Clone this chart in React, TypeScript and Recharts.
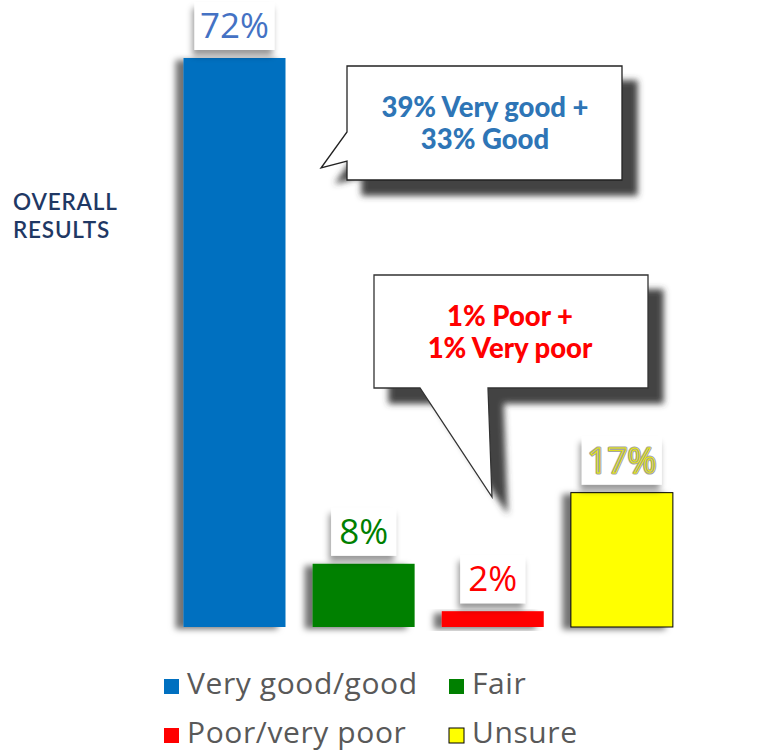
import React from 'react';
import { BarChart, Bar, XAxis, YAxis, Cell, LabelList } from 'recharts';

const categories = ['Very good/good', 'Fair', 'Poor/very poor', 'Unsure'];
const values = [72, 8, 2, 17];
const barColors = ['#0070c0', '#008000', '#ff0000', '#ffff00'];
const labelColors = ['#4472c4', '#008000', '#ff0000', '#ffff00'];
const legendRows = [[0, 1], [2, 3]];
const titleLines = ['OVERALL', 'RESULTS'];
const callout1Lines = ['39% Very good +', '33% Good'];
const callout2Lines = ['1% Poor +', '1% Very poor'];

const data = categories.map((c, i) => ({ name: c, value: values[i] }));

const W = 777;
const H = 752;

const ValueLabel = (props: any) => {
  const { x, y, width, value, index } = props;
  const cx = x + width / 2;
  const digits = String(value).length;
  const bw = 50 + 15 * digits;
  const bh = 48;
  const bottom = y - 8;
  const isUnsure = index === 3;
  const common = {
    x: cx,
    y: bottom - 12,
    textAnchor: 'middle' as const,
    fontFamily: "'Open Sans', sans-serif",
    fontSize: 35,
  };
  return (
    <g>
      <rect x={cx - bw / 2} y={bottom - bh} width={bw} height={bh} fill="#ffffff" filter="url(#labelShadow)" />
      {isUnsure ? (
        <g>
          <text {...common} fill="#a3a3a3" stroke="#a3a3a3" strokeWidth={3} strokeLinejoin="round">
            {`${value}%`}
          </text>
          <text {...common} fill="none" stroke="#e8e800" strokeWidth={0.9}>
            {`${value}%`}
          </text>
        </g>
      ) : (
        <text {...common} fill={labelColors[index]}>
          {`${value}%`}
        </text>
      )}
    </g>
  );
};

const BarShape = (props: any) => {
  const { x, y, width, height, index } = props;
  return (
    <rect
      x={x}
      y={y}
      width={width}
      height={height}
      fill={barColors[index]}
      stroke={index === 3 ? '#000000' : 'none'}
      strokeWidth={index === 3 ? 1 : 0}
      filter="url(#barShadow)"
    />
  );
};

export default function App() {
  return (
    <div style={{ position: 'absolute', left: 0, top: 0, width: W, height: H, background: '#fff' }}>
      <svg width={0} height={0} style={{ position: 'absolute' }}>
        <defs>
          <filter id="barShadow" x="-30%" y="-10%" width="160%" height="130%">
            <feDropShadow dx={-8} dy={2} stdDeviation={3} floodColor="#000" floodOpacity={0.55} />
          </filter>
          <filter id="labelShadow" x="-30%" y="-30%" width="160%" height="170%">
            <feDropShadow dx={-2} dy={6} stdDeviation={3} floodColor="#000" floodOpacity={0.4} />
          </filter>
          <filter id="calloutShadow" x="-20%" y="-20%" width="150%" height="160%">
            <feDropShadow dx={15} dy={15} stdDeviation={3} floodColor="#3a3a3a" floodOpacity={0.95} />
          </filter>
        </defs>
      </svg>
      <BarChart width={W} height={H} data={data} margin={{ top: 58, right: 0, bottom: 125, left: 72 }}>
        <YAxis hide domain={[0, 72]} />
        <XAxis
          dataKey="name"
          height={0}
          tick={false}
          tickLine={false}
          axisLine={{ stroke: '#d9d9d9', strokeWidth: 3 }}
          padding={{ left: 97.5, right: 91 }}
        />
        <Bar dataKey="value" barSize={102} isAnimationActive={false} shape={BarShape}>
          {data.map((d, i) => (
            <Cell key={d.name} fill={barColors[i]} />
          ))}
          <LabelList dataKey="value" content={ValueLabel} />
        </Bar>
      </BarChart>
      <svg width={W} height={H} style={{ position: 'absolute', left: 0, top: 0, pointerEvents: 'none' }}>
        {titleLines.map((t, i) => (
          <text
            key={t}
            x={13}
            y={210 + i * 28}
            fontFamily="Lato, sans-serif"
            fontWeight={600}
            fontSize={22.5}
            letterSpacing={0.8}
            fill="#1f3864"
          >
            {t}
          </text>
        ))}
        <path
          d="M347,66 H622 V180 H347 V161 L321,168 L347,132 Z"
          fill="#ffffff"
          stroke="#222"
          strokeWidth={1.3}
          filter="url(#calloutShadow)"
        />
        {callout1Lines.map((t, i) => (
          <text
            key={t}
            x={485}
            y={117 + i * 32}
            textAnchor="middle"
            fontFamily="Lato, sans-serif"
            fontWeight={900}
            fontSize={27.5}
            fill="#2e75b6"
          >
            {t}
          </text>
        ))}
        <path
          d="M374,275 H648 V388 H488 L492,497 L420,388 H374 Z"
          fill="#ffffff"
          stroke="#333"
          strokeWidth={1.3}
          filter="url(#calloutShadow)"
        />
        {callout2Lines.map((t, i) => (
          <text
            key={t}
            x={510}
            y={326 + i * 32}
            textAnchor="middle"
            fontFamily="Lato, sans-serif"
            fontWeight={900}
            fontSize={27.5}
            fill="#ff0000"
          >
            {t}
          </text>
        ))}
        {legendRows.map((row, r) =>
          row.map((idx, c) => {
            const sx = c === 0 ? 164 : 449;
            const sy = 679 + r * 49;
            return (
              <g key={idx}>
                <rect
                  x={sx}
                  y={sy}
                  width={15}
                  height={15}
                  fill={barColors[idx]}
                  stroke={idx === 3 ? '#000' : 'none'}
                  strokeWidth={1}
                />
                <text
                  x={sx + 23}
                  y={sy + 15}
                  fontFamily="'Open Sans', sans-serif"
                  fontSize={30}
                  letterSpacing={0.6}
                  fill="#595959"
                >
                  {categories[idx]}
                </text>
              </g>
            );
          })
        )}
      </svg>
    </div>
  );
}
